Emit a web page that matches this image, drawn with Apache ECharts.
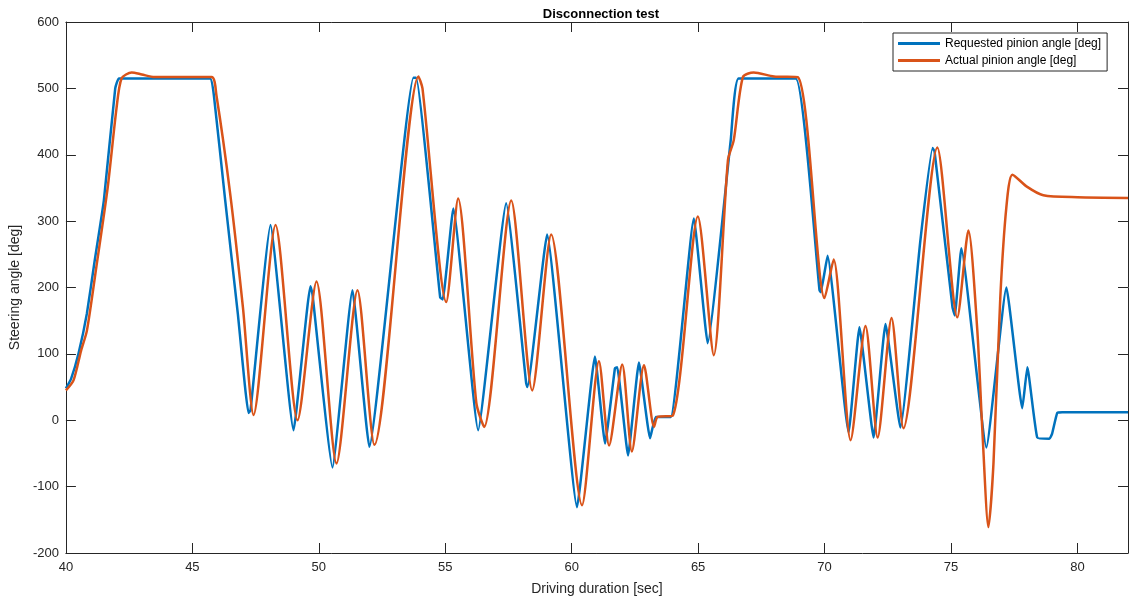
<!DOCTYPE html>
<html>
<head>
<meta charset="utf-8">
<script src="https://cdn.jsdelivr.net/npm/echarts@6/dist/echarts.min.js"></script>
<style>
  html, body { margin: 0; padding: 0; background: #fff; }
  #chart { width: 1131px; height: 601px; }
</style>
</head>
<body>
<div id="chart"></div>
<script type="text/javascript">
    // Requested pinion angle (blue)
    var reqTime = [40.0, 40.2, 40.5, 40.83, 41.14, 41.5, 41.95, 42.1, 45.7, 45.85, 46.3, 46.8, 47.22, 47.3,
        48.09, 49.0, 49.67, 49.75, 50.54, 51.33, 52.0, 53.74, 53.85, 54.8, 54.9, 55.32, 56.3, 57.41,
        58.2, 58.25, 59.03, 60.21, 60.92, 61.32, 61.71, 61.8, 62.23, 62.66, 63.1, 63.33, 63.92, 64.83,
        65.38, 66.29, 66.6, 68.86, 69.8, 69.85, 70.12, 70.95, 71.38, 71.94, 72.41, 73.0, 73.79, 74.27,
        74.35, 75.06, 75.15, 75.41, 76.4, 77.19, 77.82, 78.02, 78.41, 78.89, 79.0, 79.2, 79.4, 82.0];
    var reqAngle = [48, 62, 101, 161, 241, 331, 500, 515, 515, 490, 331, 160, 11, 15,
        294, -15, 202, 190, -71, 196, -40, 516, 516, 185, 182, 319, -15, 327,
        56, 50, 280, -131, 96, -35, 78, 80, -53, 87, -27, 5, 5, 304,
        116, 422, 515, 515, 196, 193, 248, -18, 140, -26, 145, -11, 271, 410,
        405, 170, 158, 259, -41, 200, 18, 80, -26, -28, -20, 11, 12, 12];

    // Actual pinion angle (orange)
    var actTime = [40.0, 40.3, 40.6, 40.83, 41.2, 41.65, 42.0, 42.2, 42.6, 43.0, 43.5, 45.76, 45.95, 46.5,
        47.0, 47.42, 48.29, 49.16, 49.91, 50.7, 51.53, 52.2, 53.94, 54.1, 55.04, 55.51, 56.23, 56.54,
        57.61, 58.44, 59.19, 60.41, 61.08, 61.48, 62.0, 62.38, 62.86, 63.26, 63.4, 64.0, 64.99, 65.62,
        66.18, 66.41, 66.77, 67.2, 68.0, 68.94, 70.0, 70.36, 71.03, 71.62, 72.1, 72.65, 73.12, 74.46,
        75.25, 75.69, 76.04, 76.24, 76.48, 76.68, 76.95, 77.19, 77.43, 78.0, 78.65, 80.0, 82.0];
    var actAngle = [45, 60, 105, 135, 230, 350, 470, 515, 524, 521, 517, 517, 490, 340,
        170, 8, 294, 0, 209, -65, 196, -37, 518, 500, 178, 334, 26, -10,
        331, 45, 280, -128, 89, -38, 84, -47, 83, -10, 5, 7, 307, 98,
        392, 422, 517, 524, 518, 517, 184, 242, -30, 142, -26, 154, -12, 411,
        155, 286, 136, -15, -161, -65, 185, 321, 370, 352, 339, 336, 335];

    var xTicks = [40, 45, 50, 55, 60, 65, 70, 75, 80];
    var yTicks = [-200, -100, 0, 100, 200, 300, 400, 500, 600];

    function zip(a, b) {
        return a.map(function (t, i) { return [t, b[i]]; });
    }

    var axisColor = '#262626';
    var font = '"Liberation Sans", Arial, sans-serif';

    var myChart = echarts.init(document.getElementById('chart'));
    var option = {
        animation: false,
        backgroundColor: '#ffffff',
        title: {
            text: 'Disconnection test',
            left: 596,
            top: 3,
            textAlign: 'center',
            textStyle: { fontFamily: font, fontSize: 13, fontWeight: 'bold', color: '#000' }
        },
        legend: {
            orient: 'vertical',
            left: 893,
            top: 33,
            padding: [4, 6, 4, 5],
            itemGap: 4,
            itemWidth: 42,
            itemHeight: 3,
            icon: 'rect',
            borderColor: axisColor,
            borderWidth: 1,
            backgroundColor: '#fff',
            textStyle: { fontFamily: font, fontSize: 12, color: '#000', lineHeight: 13 },
            data: ['Requested pinion angle [deg]', 'Actual pinion angle [deg]']
        },
        grid: { left: 63, right: 3, top: 22, bottom: 47, containLabel: false },
        xAxis: [
            {
                type: 'value', min: 40, max: 82, interval: 5,
                name: 'Driving duration [sec]', nameLocation: 'middle', nameGap: 29,
                nameTextStyle: { fontFamily: font, fontSize: 14, color: axisColor },
                axisLine: { onZero: false, lineStyle: { color: axisColor, width: 1 } },
                axisTick: { inside: true, length: 10, lineStyle: { color: axisColor } },
                axisLabel: { fontFamily: font, fontSize: 13, color: axisColor, margin: 8,
                    formatter: function (v) { return xTicks.indexOf(v) >= 0 ? String(v) : ''; } },
                splitLine: { show: false }
            },
            {
                type: 'value', min: 40, max: 82, interval: 5, position: 'top',
                axisLine: { onZero: false, lineStyle: { color: axisColor, width: 1 } },
                axisTick: { inside: true, length: 10, lineStyle: { color: axisColor } },
                axisLabel: { show: false },
                splitLine: { show: false }
            }
        ],
        yAxis: [
            {
                type: 'value', min: -200, max: 600, interval: 100,
                name: 'Steering angle [deg]', nameLocation: 'middle', nameGap: 37,
                nameTextStyle: { fontFamily: font, fontSize: 14, color: axisColor },
                axisLine: { show: true, onZero: false, lineStyle: { color: axisColor, width: 1 } },
                axisTick: { show: true, inside: true, length: 10, lineStyle: { color: axisColor } },
                axisLabel: { fontFamily: font, fontSize: 13, color: axisColor, margin: 7,
                    formatter: function (v) { return yTicks.indexOf(v) >= 0 ? String(v) : ''; } },
                splitLine: { show: false }
            },
            {
                type: 'value', min: -200, max: 600, interval: 100, position: 'right',
                axisLine: { show: true, onZero: false, lineStyle: { color: axisColor, width: 1 } },
                axisTick: { show: true, inside: true, length: 10, lineStyle: { color: axisColor } },
                axisLabel: { show: false },
                splitLine: { show: false }
            }
        ],
        series: [
            {
                name: 'Requested pinion angle [deg]',
                type: 'line',
                smooth: 0.12,
                showSymbol: false,
                color: '#0072BD',
                lineStyle: { width: 2.5, color: '#0072BD' },
                data: zip(reqTime, reqAngle)
            },
            {
                name: 'Actual pinion angle [deg]',
                type: 'line',
                smooth: 0.25,
                showSymbol: false,
                color: '#D95319',
                lineStyle: { width: 2.5, color: '#D95319' },
                data: zip(actTime, actAngle)
            }
        ]
    };
    myChart.setOption(option);
</script>
</body>
</html>
